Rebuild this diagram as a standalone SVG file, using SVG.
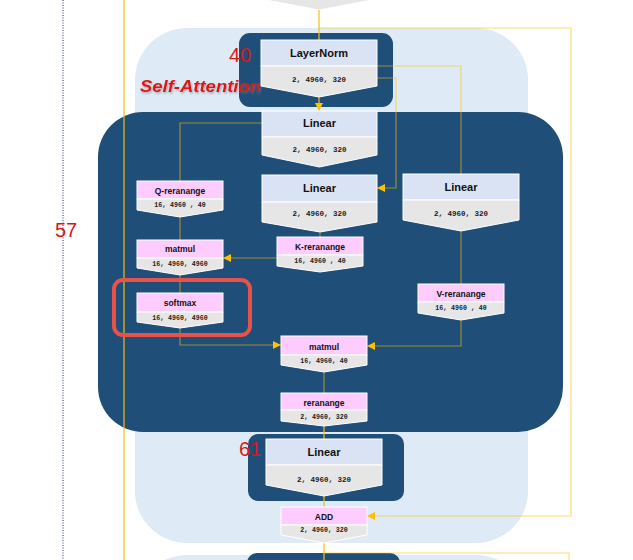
<svg xmlns="http://www.w3.org/2000/svg" width="633" height="560" viewBox="0 0 633 560">
<defs>
<style>
.bg{fill:#deebf7}
.dk{fill:#1f4e79}
.top{fill:#dae3f3;stroke:#fff;stroke-width:1}
.pk{fill:#ffccff;stroke:#fff;stroke-width:1}
.gr{fill:#e6e6e6;stroke:#fff;stroke-width:1}
.t1{font-family:"Liberation Sans",Arial,sans-serif;font-weight:bold;font-size:11px;fill:#111;text-anchor:middle}
.t2{font-family:"Liberation Sans",Arial,sans-serif;font-weight:bold;font-size:8.5px;fill:#111;text-anchor:middle}
.d1{font-family:"Liberation Mono","Noto Sans CJK SC",monospace;font-weight:bold;font-size:7.5px;fill:#1a1a1a;text-anchor:middle}
.d2{font-family:"Liberation Mono","Noto Sans CJK SC",monospace;font-weight:bold;font-size:6.6px;fill:#1a1a1a;text-anchor:middle}
.red{font-family:"Liberation Sans",Arial,sans-serif;font-size:20px;fill:#dd1515}
.c{fill:none;stroke:#ffc000;stroke-width:1.2;stroke-opacity:0.55}
.cs{fill:none;stroke:#f0c010;stroke-width:1.2}
</style>
<marker id="ar" viewBox="0 0 8 8" refX="8" refY="4" markerWidth="8" markerHeight="8" markerUnits="userSpaceOnUse" orient="auto">
<path d="M0,0 L8,4 L0,8 z" fill="#ffc000"/>
</marker>
<filter id="sh" x="-10%" y="-30%" width="130%" height="170%">
<feDropShadow dx="1" dy="1.5" stdDeviation="1" flood-color="#777" flood-opacity="0.6"/>
</filter>
</defs>

<g id="background">
<line x1="63" y1="0" x2="63" y2="560" stroke="#1f3864" stroke-width="1" stroke-dasharray="1,1.5"/>
<rect class="bg" x="135" y="28" width="393" height="515" rx="52"/>
<rect class="bg" x="135" y="555" width="393" height="200" rx="52"/>
<rect class="dk" x="98" y="112" width="465" height="320" rx="45"/>
<rect class="dk" x="239" y="33" width="154" height="74" rx="11"/>
<rect class="dk" x="248" y="434" width="156" height="67" rx="10"/>
<rect class="dk" x="247" y="553" width="153" height="40" rx="10"/>
<polygon class="gr" points="261,-3 377,-3 377,-1 319,10 261,-1"/>
</g>

<g id="connectors">
<line class="cs" x1="124" y1="0" x2="124" y2="560"/>
<line class="cs" x1="319" y1="10" x2="319" y2="40"/>
<polyline class="c" points="319,28 571,28 571,516 367,516" marker-end="url(#ar)"/>
<line class="cs" x1="319" y1="97" x2="319" y2="111" marker-end="url(#ar)"/>
<polyline class="c" points="377,66 461,66 461,174"/>
<polyline class="c" points="377,78 396,78 396,188 377,188" marker-end="url(#ar)"/>
<polyline class="c" points="262,123 180,123 180,181"/>
<line class="c" x1="180" y1="217" x2="180" y2="240"/>
<line class="c" x1="320" y1="232" x2="320" y2="237"/>
<line class="c" x1="277" y1="258" x2="223" y2="258" marker-end="url(#ar)"/>
<line class="c" x1="180" y1="275" x2="180" y2="293"/>
<polyline class="c" points="180,328 180,345 281,345" marker-end="url(#ar)"/>
<line class="c" x1="461" y1="231" x2="461" y2="284"/>
<polyline class="c" points="461,320 461,346 367,346" marker-end="url(#ar)"/>
<line class="c" x1="324" y1="372" x2="324" y2="393"/>
<line class="cs" x1="324" y1="426" x2="324" y2="439"/>
<line class="cs" x1="324" y1="496" x2="324" y2="507"/>
<line class="cs" x1="324" y1="543" x2="324" y2="560"/>
<polyline class="c" points="324,553 569,553 569,560"/>
</g>

<g id="labels">
<text class="red" x="229" y="62">40</text>
<text x="140" y="92" font-family="'Liberation Sans',Arial,sans-serif" font-weight="bold" font-style="italic" font-size="17px" textLength="121" lengthAdjust="spacingAndGlyphs" fill="#dd1515" filter="url(#sh)">Self-Attention</text>
<text class="red" x="55" y="237">57</text>
<text class="red" x="239" y="456">61</text>
</g>

<g id="n-layernorm">
<rect class="top" x="261" y="40" width="116" height="26"/>
<polygon class="gr" points="261,66 377,66 377,86 319,97 261,86"/>
<text class="t1" x="319" y="57">LayerNorm</text>
<text class="d1" x="319" y="82">2, 4960, 320</text>
</g>

<g id="n-linear1">
<rect class="top" x="262" y="111" width="115" height="26"/>
<polygon class="gr" points="262,137 377,137 377,155 319.5,167 262,155"/>
<text class="t1" x="319.5" y="127">Linear</text>
<text class="d1" x="319.5" y="152">2, 4960, 320</text>
</g>

<g id="n-linear2">
<rect class="top" x="262" y="175" width="115" height="27"/>
<polygon class="gr" points="262,202 377,202 377,222 320,232 262,222"/>
<text class="t1" x="319.5" y="192">Linear</text>
<text class="d1" x="319.5" y="216">2, 4960, 320</text>
</g>

<g id="n-linear3">
<rect class="top" x="403" y="174" width="116" height="26"/>
<polygon class="gr" points="403,200 519,200 519,220 461,231 403,220"/>
<text class="t1" x="461" y="191">Linear</text>
<text class="d1" x="461" y="216">2, 4960, 320</text>
</g>

<g id="n-q">
<rect class="pk" x="137" y="181" width="86" height="18"/>
<polygon class="gr" points="137,199 223,199 223,210 180,217 137,210"/>
<text class="t2" x="180" y="194">Q-reranange</text>
<text class="d2" x="180" y="206.5">16, 4960 , 40</text>
</g>

<g id="n-k">
<rect class="pk" x="277" y="237" width="86" height="18"/>
<polygon class="gr" points="277,255 363,255 363,266 320,272 277,266"/>
<text class="t2" x="320" y="250">K-reranange</text>
<text class="d2" x="320" y="262.5">16, 4960 , 40</text>
</g>

<g id="n-matmul1">
<rect class="pk" x="137" y="240" width="86" height="18"/>
<polygon class="gr" points="137,258 223,258 223,268 180,275 137,268"/>
<text class="t2" x="180" y="252">matmul</text>
<text class="d2" x="180" y="265.5">16, 4960, 4960</text>
</g>

<g id="n-softmax">
<rect x="114" y="280" width="136" height="55" rx="9" fill="none" stroke="#e8524a" stroke-width="4"/>
<rect class="pk" x="137" y="293" width="86" height="19"/>
<polygon class="gr" points="137,312 223,312 223,322 180,328 137,322"/>
<text class="t2" x="180" y="306">softmax</text>
<text class="d2" x="180" y="319.5">16, 4960, 4960</text>
</g>

<g id="n-v">
<rect class="pk" x="418" y="284" width="86" height="18"/>
<polygon class="gr" points="418,302 504,302 504,313 461,320 418,313"/>
<text class="t2" x="461" y="297">V-reranange</text>
<text class="d2" x="461" y="309.5">16, 4960 , 40</text>
</g>

<g id="n-matmul2">
<rect class="pk" x="281" y="336" width="86" height="19"/>
<polygon class="gr" points="281,355 367,355 367,365 324,372 281,365"/>
<text class="t2" x="324" y="350">matmul</text>
<text class="d2" x="324" y="362.5">16, 4960, 40</text>
</g>

<g id="n-reranange">
<rect class="pk" x="281" y="393" width="86" height="17"/>
<polygon class="gr" points="281,410 367,410 367,421 324,426 281,421"/>
<text class="t2" x="324" y="406">reranange</text>
<text class="d2" x="324" y="418.5">2, 4960, 320</text>
</g>

<g id="n-linear61">
<rect class="top" x="266" y="439" width="116" height="26"/>
<polygon class="gr" points="266,465 382,465 382,485 324,496 266,485"/>
<text class="t1" x="324" y="456">Linear</text>
<text class="d1" x="324" y="481.5">2, 4960, 320</text>
</g>

<g id="n-add">
<rect class="pk" x="281" y="507" width="86" height="18"/>
<polygon class="gr" points="281,525 367,525 367,535 324,543 281,535"/>
<text class="t2" x="324" y="519.5">ADD</text>
<text class="d2" x="324" y="531.5">2, 4960, 320</text>
</g>
</svg>
